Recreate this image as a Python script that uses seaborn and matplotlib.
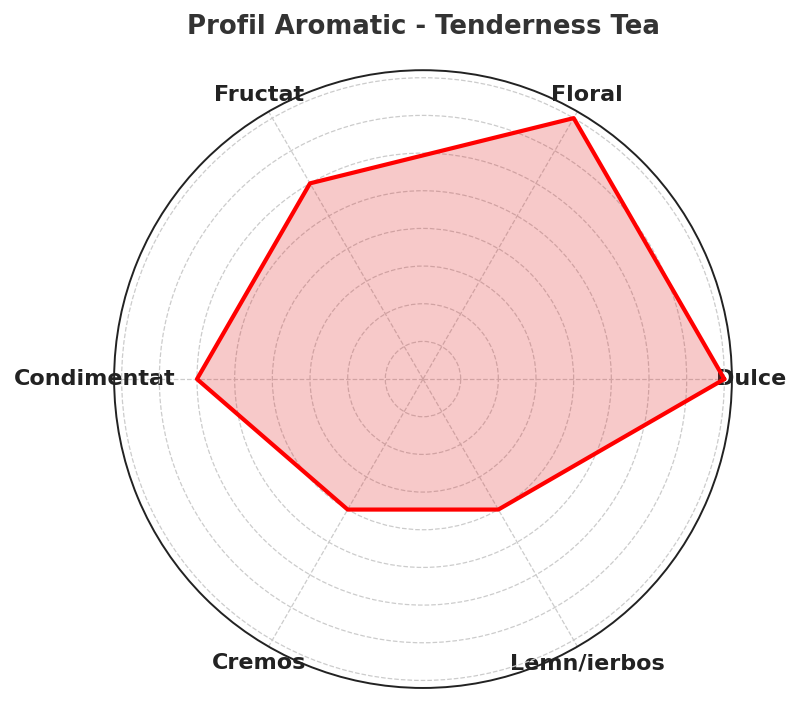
import numpy as np
import matplotlib
matplotlib.use("Agg")
import matplotlib.pyplot as plt
import seaborn as sns

categories = ["Dulce", "Floral", "Fructat", "Condimentat", "Cremos", "Lemn/ierbos"]
values = [8, 8, 6, 6, 4, 4]
title = "Profil Aromatic - Tenderness Tea"

sns.set_style("white", {"grid.linestyle": "--"})
plt.rcParams['font.family'] = ['DejaVu Sans']

fig = plt.figure(figsize=(8, 7.02), dpi=100)
ax = fig.add_axes([0.1425, 0.02, 0.7725, 0.880], projection="polar")

n = len(categories)
angles = np.linspace(0, 2 * np.pi, n, endpoint=False).tolist()
vals = values + values[:1]
angs = angles + angles[:1]

ax.fill(angs, vals, color="#e02020", alpha=0.24, linewidth=0)
ax.plot(angs, vals, color="red", linewidth=3)

ax.set_ylim(0, 8.2)
ax.set_yticks(range(1, 9))
ax.set_yticklabels([])
ax.set_xticks(angles)
ax.set_xticklabels(categories, fontsize=16, fontweight="bold", color="#222222")
ax.tick_params(axis="x", pad=3.5)
ax.grid(True, color="#cccccc", linestyle="--", linewidth=0.9)
ax.spines["polar"].set_color("#222222")
ax.spines["polar"].set_linewidth(1.4)

fig.text(423 / 800, 0.98, title, fontsize=18.7, fontweight="bold", color="#333333",
         ha="center", va="top")

fig.savefig("out.png", dpi=100)
